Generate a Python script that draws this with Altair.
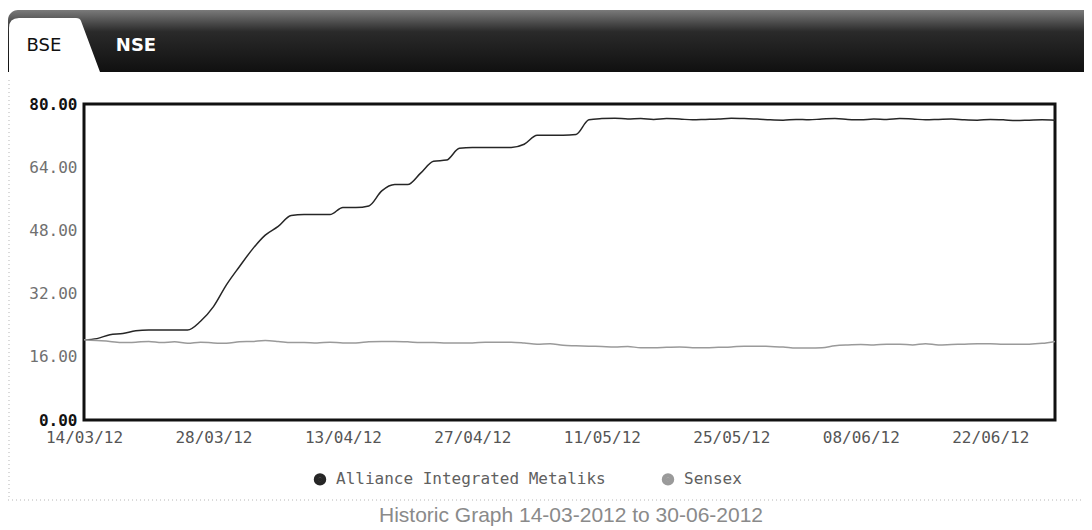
import altair as alt
import pandas as pd

# ---------------- data ----------------
DATE_LABELS = ["14/03/12", "28/03/12", "13/04/12", "27/04/12",
               "11/05/12", "25/05/12", "08/06/12", "22/06/12"]
LABEL_STEP = 10  # one date label every 10 trading days

SERIES = ["Alliance Integrated Metaliks", "Sensex"]

ALLIANCE = [
    20.3, 20.6, 21.6, 21.9, 22.6, 22.8, 22.8, 22.8, 22.8, 25.0,
    28.7, 34.2, 38.8, 43.2, 46.8, 49.0, 51.8, 52.0, 52.0, 52.0,
    53.8, 53.8, 54.2, 58.0, 59.6, 59.6, 62.5, 65.5, 65.8, 68.8,
    69.0, 69.0, 69.0, 69.0, 69.8, 72.1, 72.1, 72.1, 72.3, 76.0,
    76.3, 76.4, 76.2, 76.3, 76.1, 76.3, 76.2, 76.0, 76.1, 76.2,
    76.4, 76.3, 76.2, 76.0, 75.9, 76.1, 76.0, 76.2, 76.3, 76.1,
    76.0, 76.2, 76.1, 76.3, 76.2, 76.0, 76.1, 76.2, 76.0, 75.9,
    76.1, 76.0, 75.8, 75.9, 76.0, 75.9,
]

SENSEX = [
    20.3, 20.1, 19.9, 19.6, 19.7, 19.9, 19.6, 19.8, 19.4, 19.7,
    19.5, 19.4, 19.8, 19.9, 20.1, 19.9, 19.6, 19.6, 19.5, 19.7,
    19.5, 19.5, 19.8, 19.9, 19.9, 19.8, 19.6, 19.6, 19.5, 19.5,
    19.5, 19.7, 19.7, 19.7, 19.5, 19.2, 19.3, 18.9, 18.8, 18.7,
    18.6, 18.5, 18.6, 18.3, 18.3, 18.4, 18.5, 18.3, 18.3, 18.4,
    18.5, 18.7, 18.7, 18.6, 18.5, 18.2, 18.2, 18.3, 18.8, 19.0,
    19.1, 19.0, 19.2, 19.2, 19.0, 19.3, 19.0, 19.1, 19.2, 19.3,
    19.3, 19.2, 19.2, 19.2, 19.4, 19.9,
]

Y_TICKS = [0, 16, 32, 48, 64, 80]
TABS = ["BSE", "NSE"]
TITLE = "Historic Graph 14-03-2012 to 30-06-2012"

# ---------------- tables ----------------
n = len(ALLIANCE)
df = pd.DataFrame({
    "i": list(range(n)) * 2,
    "v": ALLIANCE + SENSEX,
    "s": [SERIES[0]] * n + [SERIES[1]] * n,
})
one = pd.DataFrame({"k": [0]})

MONO = "DejaVu Sans Mono"
label_expr = "[" + ",".join("'%s'" % d for d in DATE_LABELS) + "][round(datum.value / %d)]" % LABEL_STEP

W, H = 971, 316
LINE_COLORS = ["#262626", "#9a9a9a"]
fill_expr = "datum && datum.value == '%s' ? '%s' : '%s'" % (SERIES[1], LINE_COLORS[1], LINE_COLORS[0])

x_enc = alt.X("i:Q",
              scale=alt.Scale(domain=[0, n - 1], nice=False, zero=False),
              axis=alt.Axis(values=[k * LABEL_STEP for k in range(len(DATE_LABELS))],
                            labelExpr=label_expr, title=None, ticks=False, domain=False,
                            grid=False, labelFlush=False, labelOverlap=False, labelBound=False,
                            labelFont=MONO, labelFontSize=16, labelColor="#555555",
                            labelPadding=9))
y_enc = alt.Y("v:Q",
              scale=alt.Scale(domain=[0, 80], nice=False),
              axis=alt.Axis(values=Y_TICKS, format=".2f", title=None, ticks=False,
                            domain=False, grid=False, labelFont=MONO, labelFontSize=16,
                            labelPadding=7,
                            labelColor={"condition": {"test": "datum.value == 0 || datum.value == 80",
                                                      "value": "#111111"}, "value": "#707070"},
                            labelFontWeight={"condition": {"test": "datum.value == 0 || datum.value == 80",
                                                           "value": "bold"}, "value": "normal"}))

lines = alt.Chart(df).mark_line(interpolate="monotone", strokeWidth=1.5).encode(
    x=x_enc, y=y_enc,
    stroke=alt.Stroke("s:N", scale=alt.Scale(domain=SERIES, range=LINE_COLORS),
                      legend=alt.Legend(title=None, orient="none", legendX=228, legendY=367,
                                        direction="horizontal", symbolType="circle",
                                        symbolSize=20, symbolStrokeWidth=8, symbolOpacity=1,
                                        symbolFillColor={"expr": fill_expr},
                                        labelFont=MONO, labelFontSize=16, labelColor="#606060",
                                        labelLimit=500, labelOffset=8, columnPadding=43,
                                        padding=0)),
)

# ---------------- decoration: header banner with tabs ----------------
banner = alt.Chart(one).mark_rect(
    color=alt.LinearGradient(
        gradient="linear",
        stops=[alt.GradientStop(color="#7a7a7a", offset=0),
               alt.GradientStop(color="#2a2a2a", offset=0.35),
               alt.GradientStop(color="#101010", offset=1)],
        x1=0, x2=0, y1=0, y2=1),
    cornerRadiusTopLeft=10,
).encode(x=alt.value(-76), x2=alt.value(1000), y=alt.value(-94), y2=alt.value(-32))

TAB_PATH = "M -75 -32 L -75 -76 Q -75 -86 -65 -86 L -8 -86 Q -4 -86 -3 -83 L 16 -32 Z"
tab = alt.Chart(one).mark_point(
    shape=TAB_PATH, size=4, filled=True, color="white", opacity=1, strokeWidth=0
).encode(x=alt.value(0), y=alt.value(0))

bse = alt.Chart(one).mark_text(
    font="DejaVu Sans", fontSize=18, color="#111111", align="center", baseline="middle"
).encode(x=alt.value(-40), y=alt.value(-58), text=alt.value(TABS[0]))

nse = alt.Chart(one).mark_text(
    font="DejaVu Sans", fontSize=18, fontWeight="bold", color="#ffffff",
    align="center", baseline="middle"
).encode(x=alt.value(52), y=alt.value(-58), text=alt.value(TABS[1]))

# faint dotted container border
left_border = alt.Chart(one).mark_rule(color="#b5b5b5", strokeDash=[1, 3], strokeWidth=1).encode(
    x=alt.value(-75), y=alt.value(-24), y2=alt.value(396))
bottom_border = alt.Chart(one).mark_rule(color="#b5b5b5", strokeDash=[1, 3], strokeWidth=1).encode(
    x=alt.value(-76), x2=alt.value(1000), y=alt.value(396))

title = alt.Chart(one).mark_text(
    font="Liberation Sans", fontSize=21, color="#8a8a8a", align="center", baseline="middle"
).encode(x=alt.value(487), y=alt.value(412), text=alt.value(TITLE))

chart = alt.layer(
    banner, tab, bse, nse, left_border, bottom_border, lines, title
).properties(
    width=W, height=H,
    padding={"left": 76, "top": 96, "right": 29, "bottom": 106},
    autosize=alt.AutoSizeParams(type="none"),
).configure(
    background="white",
    view=alt.ViewConfig(stroke="#111111", strokeWidth=3),
)

chart.save("out.html", embed_options={"renderer": "svg", "actions": False})
